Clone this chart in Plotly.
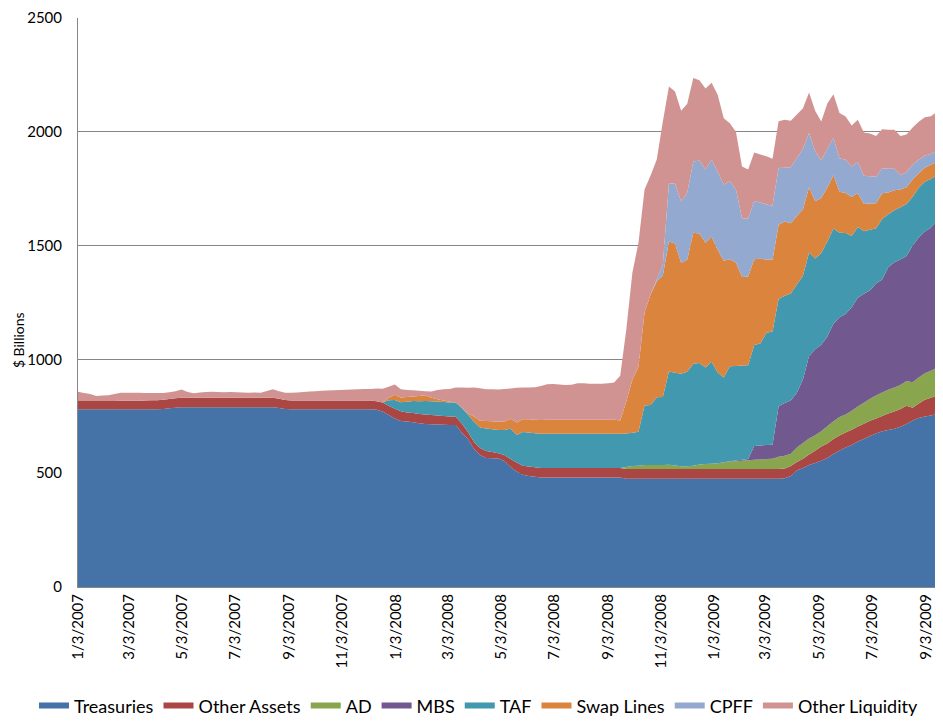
import pandas as pd
import plotly.graph_objects as go

# Weekly dates (Wednesdays) 1/3/2007 .. 9/16/2009
dates = pd.date_range("2007-01-03", periods=142, freq="7D")

tick_dates = ["2007-01-03", "2007-03-03", "2007-05-03", "2007-07-03", "2007-09-03", "2007-11-03",
              "2008-01-03", "2008-03-03", "2008-05-03", "2008-07-03", "2008-09-03", "2008-11-03",
              "2009-01-03", "2009-03-03", "2009-05-03", "2009-07-03", "2009-09-03"]
tick_labels = ["1/3/2007", "3/3/2007", "5/3/2007", "7/3/2007", "9/3/2007", "11/3/2007",
               "1/3/2008", "3/3/2008", "5/3/2008", "7/3/2008", "9/3/2008", "11/3/2008",
               "1/3/2009", "3/3/2009", "5/3/2009", "7/3/2009", "9/3/2009"]

treasuries = [
    781, 781, 781, 781, 781, 781, 781, 781, 781, 781,
    781, 781, 781, 781, 782, 785, 788, 790, 790, 790,
    790, 790, 790, 790, 790, 790, 790, 790, 790, 790,
    790, 790, 790, 786, 782, 781, 781, 781, 781, 781,
    781, 781, 781, 781, 781, 781, 781, 781, 781, 779,
    771, 756, 740, 729, 727, 724, 719, 716, 715, 714,
    713, 712, 712, 678, 650, 606, 580, 567, 566, 565,
    554, 527, 507, 493, 488, 484, 481, 481, 481, 481,
    481, 481, 481, 481, 481, 481, 481, 481, 481, 481,
    476, 476, 476, 476, 476, 476, 476, 476, 476, 476,
    476, 476, 476, 476, 476, 476, 476, 476, 476, 476,
    476, 476, 476, 476, 476, 476, 478, 488, 512, 523,
    536, 545, 555, 567, 584, 600, 613, 624, 639, 650,
    663, 674, 684, 690, 695, 704, 716, 732, 743, 749,
    754, 759]

other_assets = [
    36, 36, 36, 36, 36, 36, 36, 37, 37, 37,
    37, 38, 39, 40, 41, 41, 41, 42, 42, 42,
    42, 42, 42, 42, 42, 42, 42, 42, 42, 42,
    42, 42, 42, 41, 40, 38, 38, 38, 38, 38,
    38, 38, 38, 38, 38, 38, 38, 38, 38, 37,
    40, 40, 43, 43, 40, 40, 41, 42, 41, 39,
    38, 37, 36, 40, 31, 31, 31, 31, 27, 23,
    26, 35, 40, 40, 41, 42, 42, 42, 42, 42,
    42, 42, 42, 42, 42, 42, 42, 42, 42, 42,
    43, 43, 43, 43, 43, 43, 43, 43, 43, 43,
    43, 43, 43, 43, 43, 43, 43, 43, 43, 43,
    43, 43, 43, 43, 43, 43, 43, 44, 37, 41,
    46, 54, 62, 64, 66, 66, 66, 67, 66, 67,
    67, 66, 67, 72, 76, 78, 80, 56, 63, 74,
    77, 82]

ad = [
    0, 0, 0, 0, 0, 0, 0, 0, 0, 0,
    0, 0, 0, 0, 0, 0, 0, 0, 0, 0,
    0, 0, 0, 0, 0, 0, 0, 0, 0, 0,
    0, 0, 0, 0, 0, 0, 0, 0, 0, 0,
    0, 0, 0, 0, 0, 0, 0, 0, 0, 0,
    0, 0, 0, 0, 0, 0, 0, 0, 0, 0,
    0, 0, 0, 0, 0, 0, 0, 0, 0, 0,
    0, 0, 0, 0, 0, 0, 0, 0, 0, 0,
    0, 0, 0, 0, 0, 0, 0, 0, 0, 0,
    8, 13, 14, 17, 17, 17, 17, 18, 15, 12,
    11, 14, 19, 21, 23, 25, 28, 32, 34, 36,
    38, 40, 41, 43, 44, 53, 56, 54, 64, 69,
    70, 68, 67, 75, 78, 81, 79, 83, 88, 93,
    97, 101, 104, 105, 106, 105, 109, 112, 114, 116,
    119, 123]

mbs = [
    0, 0, 0, 0, 0, 0, 0, 0, 0, 0,
    0, 0, 0, 0, 0, 0, 0, 0, 0, 0,
    0, 0, 0, 0, 0, 0, 0, 0, 0, 0,
    0, 0, 0, 0, 0, 0, 0, 0, 0, 0,
    0, 0, 0, 0, 0, 0, 0, 0, 0, 0,
    0, 0, 0, 0, 0, 0, 0, 0, 0, 0,
    0, 0, 0, 0, 0, 0, 0, 0, 0, 0,
    0, 0, 0, 0, 0, 0, 0, 0, 0, 0,
    0, 0, 0, 0, 0, 0, 0, 0, 0, 0,
    0, 0, 0, 0, 0, 0, 0, 0, 0, 0,
    0, 0, 0, 0, 0, 0, 1, 2, 3, 4,
    5, 60, 62, 62, 62, 222, 231, 233, 240, 280,
    363, 378, 380, 395, 429, 438, 442, 455, 478, 478,
    477, 492, 496, 538, 550, 552, 549, 600, 616, 623,
    628, 649]

taf = [
    0, 0, 0, 0, 0, 0, 0, 0, 0, 0,
    0, 0, 0, 0, 0, 0, 0, 0, 0, 0,
    0, 0, 0, 0, 0, 0, 0, 0, 0, 0,
    0, 0, 0, 0, 0, 0, 0, 0, 0, 0,
    0, 0, 0, 0, 0, 0, 0, 0, 0, 0,
    0, 25, 39, 40, 47, 53, 56, 59, 60, 62,
    62, 62, 63, 68, 77, 89, 90, 98, 100, 102,
    110, 134, 121, 148, 150, 150, 150, 150, 150, 150,
    150, 150, 150, 150, 150, 150, 150, 150, 150, 150,
    147, 146, 149, 261, 264, 298, 299, 410, 407, 406,
    416, 448, 446, 424, 448, 398, 373, 417, 415, 414,
    412, 444, 448, 493, 498, 471, 472, 471, 476, 454,
    455, 398, 403, 417, 418, 372, 355, 313, 311, 275,
    266, 243, 266, 233, 228, 230, 229, 215, 218, 218,
    215, 198]

swap_lines = [
    0, 0, 0, 0, 0, 0, 0, 0, 0, 0,
    0, 0, 0, 0, 0, 0, 0, 0, 0, 0,
    0, 0, 0, 0, 0, 0, 0, 0, 0, 0,
    0, 0, 0, 0, 0, 0, 0, 0, 0, 0,
    0, 0, 0, 0, 0, 0, 0, 0, 0, 0,
    0, 11, 23, 21, 21, 20, 23, 25, 15, 10,
    6, 3, 0, 0, 4, 23, 29, 33, 35, 36,
    37, 43, 55, 56, 58, 59, 61, 62, 62, 62,
    62, 62, 62, 62, 62, 62, 62, 62, 62, 59,
    141, 233, 286, 409, 486, 508, 534, 571, 568, 488,
    492, 576, 569, 549, 549, 540, 512, 470, 455, 389,
    390, 377, 372, 322, 315, 327, 326, 308, 301, 293,
    286, 252, 242, 237, 234, 180, 176, 171, 149, 120,
    115, 110, 113, 95, 88, 78, 73, 75, 64, 62,
    62, 58]

cpff = [
    0, 0, 0, 0, 0, 0, 0, 0, 0, 0,
    0, 0, 0, 0, 0, 0, 0, 0, 0, 0,
    0, 0, 0, 0, 0, 0, 0, 0, 0, 0,
    0, 0, 0, 0, 0, 0, 0, 0, 0, 0,
    0, 0, 0, 0, 0, 0, 0, 0, 0, 0,
    0, 0, 0, 0, 0, 0, 0, 0, 0, 0,
    0, 0, 0, 0, 0, 0, 0, 0, 0, 0,
    0, 0, 0, 0, 0, 0, 0, 0, 0, 0,
    0, 0, 0, 0, 0, 0, 0, 0, 0, 0,
    0, 0, 0, 0, 0, 9, 48, 255, 264, 269,
    294, 312, 321, 321, 338, 343, 336, 343, 321, 257,
    255, 256, 247, 242, 237, 249, 236, 246, 255, 264,
    239, 220, 165, 171, 164, 147, 146, 135, 136, 124,
    120, 117, 110, 105, 95, 63, 66, 66, 59, 53,
    48, 48]

other_liquidity = [
    41, 35, 31, 22, 24, 26, 31, 35, 36, 36,
    35, 33, 32, 31, 29, 30, 31, 36, 25, 19,
    23, 25, 26, 25, 24, 25, 24, 23, 22, 23,
    22, 29, 37, 33, 32, 34, 36, 38, 40, 41,
    43, 44, 46, 47, 48, 49, 50, 51, 51, 56,
    60, 48, 45, 36, 31, 28, 23, 18, 28, 41,
    50, 56, 65, 91, 113, 127, 143, 140, 141, 142,
    143, 133, 152, 140, 140, 143, 149, 156, 157, 155,
    153, 154, 160, 160, 158, 158, 158, 160, 163, 196,
    316, 470, 545, 540, 523, 527, 628, 426, 404, 399,
    391, 367, 353, 356, 338, 338, 290, 255, 252, 228,
    215, 213, 211, 212, 207, 205, 211, 205, 191, 179,
    178, 177, 171, 198, 192, 199, 190, 180, 186, 190,
    188, 179, 171, 171, 171, 171, 166, 163, 167, 169,
    165, 171]

series = [
    ("Treasuries", treasuries, "#4572A7"),
    ("Other Assets", other_assets, "#AA4643"),
    ("AD", ad, "#89A54E"),
    ("MBS", mbs, "#71588F"),
    ("TAF", taf, "#4198AF"),
    ("Swap Lines", swap_lines, "#DB843D"),
    ("CPFF", cpff, "#93A9CF"),
    ("Other Liquidity", other_liquidity, "#D19392"),
]

FONT = "Lato, 'Open Sans', sans-serif"

fig = go.Figure()
for name, vals, color in series:
    fig.add_trace(go.Scatter(
        x=dates, y=vals, name=name, stackgroup="one", mode="none",
        fillcolor=color, line=dict(width=0, color=color),
    ))

fig.update_layout(
    width=935, height=717,
    margin=dict(l=70, r=6, t=10, b=138, autoexpand=False),
    paper_bgcolor="white", plot_bgcolor="white",
    font=dict(family=FONT, color="#000000"),
    showlegend=True,
    legend=dict(orientation="h", traceorder="normal",
                x=-0.0512, xanchor="left", y=-0.209, yanchor="middle",
                font=dict(size=18, family=FONT, color="#000000"),
                itemwidth=30, tracegroupgap=0),
    annotations=[dict(text="$ Billions", xref="paper", yref="paper",
                      x=-0.0698, y=0.434, showarrow=False, textangle=-90,
                      xanchor="center", yanchor="middle",
                      font=dict(size=14, family=FONT, color="#000000"))],
)
fig.update_xaxes(
    type="date", automargin=False,
    range=[dates[0], dates[-1]],
    tickmode="array", tickvals=tick_dates, ticktext=tick_labels,
    tickangle=-90, tickfont=dict(size=15, family=FONT, color="#000000"),
    showgrid=False, showline=True, linecolor="#868686", linewidth=1,
    ticks="", zeroline=False,
)
fig.update_yaxes(
    automargin=False,
    range=[0, 2500], tickmode="array", tickvals=[0, 500, 1000, 1500, 2000, 2500],
    ticktext=["0", "500", "1000", "1500", "2000", "2500"],
    tickfont=dict(size=15, family=FONT, color="#000000"),
    showgrid=True, gridcolor="#868686", gridwidth=1,
    showline=True, linecolor="#868686", linewidth=1,
    ticks="", ticklabelstandoff=12, zeroline=False,
)

fig.write_html("out.html")
